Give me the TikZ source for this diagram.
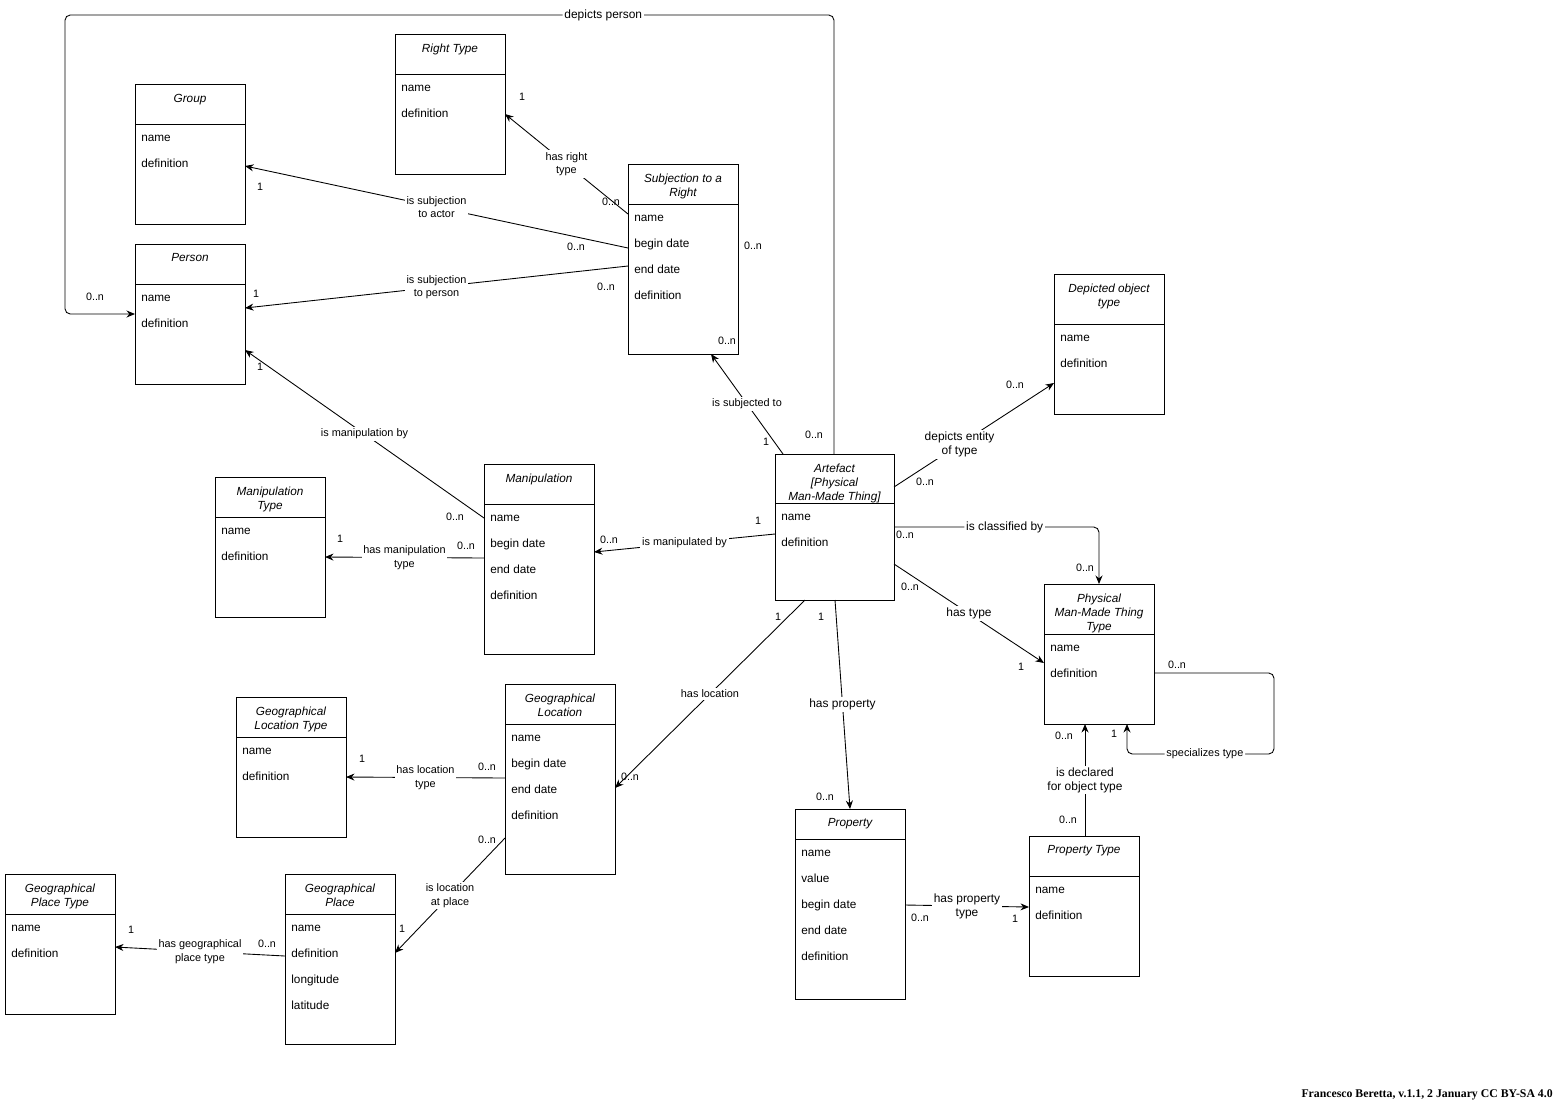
\documentclass[tikz,border=0pt]{standalone}
\usepackage{fontspec}
\setmainfont{Liberation Sans}
\newfontfamily\footerfont{Liberation Serif}
\usetikzlibrary{positioning,calc,arrows.meta}

\begin{document}
\begin{tikzpicture}[
x=0.02cm, y=-0.02cm,
classbox/.style={rectangle, draw=black, line width=0.5pt, anchor=north west, inner sep=0pt, outer sep=0pt, minimum width=2.2cm, minimum height=2.8cm},
classline/.style={line width=0.5pt},
classtitle/.style={inner sep=0pt, align=center, font=\fontsize{6.7}{8}\selectfont\itshape},
classattr/.style={inner sep=0pt, align=left, font=\fontsize{6.7}{14.8}\selectfont},
linklabel/.style={fill=white, inner sep=1pt, align=center, font=\fontsize{6.2}{7.6}\selectfont},
biglinklabel/.style={linklabel, font=\fontsize{6.8}{8}\selectfont},
mult/.style={inner sep=0pt, font=\fontsize{6.1}{7.4}\selectfont},
arrow/.style={->, line width=0.5pt, >={Stealth[length=1.7mm, width=1.4mm]}}
]
\useasboundingbox (0,0) rectangle (1565,1110);

%Classes
%Classes actors and rights
\node[classbox] 													(righttype) at (395,34) {};
\draw[classline] ([yshift=-0.8cm]righttype.north west) -- ([yshift=-0.8cm]righttype.north east);
\node[classtitle, below=0.19cm of righttype.north] 					(righttype_title) {Right Type};
\node[classattr, below right=0.21cm and 0.12cm of righttype.north west, yshift=-0.8cm] (righttype_attr) {name\\definition};

\node[classbox] 													(group) at (135,84) {};
\draw[classline] ([yshift=-0.8cm]group.north west) -- ([yshift=-0.8cm]group.north east);
\node[classtitle, below=0.19cm of group.north] 						(group_title) {Group};
\node[classattr, below right=0.21cm and 0.12cm of group.north west, yshift=-0.8cm] (group_attr) {name\\definition};

\node[classbox] 													(person) at (135,244) {};
\draw[classline] ([yshift=-0.8cm]person.north west) -- ([yshift=-0.8cm]person.north east);
\node[classtitle, below=0.19cm of person.north] 					(person_title) {Person};
\node[classattr, below right=0.21cm and 0.12cm of person.north west, yshift=-0.8cm] (person_attr) {name\\definition};

\node[classbox, minimum height=3.8cm] 								(subj) at (628,164) {};
\draw[classline] ([yshift=-0.8cm]subj.north west) -- ([yshift=-0.8cm]subj.north east);
\node[classtitle, below=0.19cm of subj.north] 						(subj_title) {Subjection to a\\Right};
\node[classattr, below right=0.21cm and 0.12cm of subj.north west, yshift=-0.8cm] (subj_attr) {name\\begin date\\end date\\definition};

\node[classbox] 													(depicted) at (1054,274) {};
\draw[classline] ([yshift=-1cm]depicted.north west) -- ([yshift=-1cm]depicted.north east);
\node[classtitle, below=0.19cm of depicted.north] 					(depicted_title) {Depicted object\\type};
\node[classattr, below right=0.21cm and 0.12cm of depicted.north west, yshift=-1cm] (depicted_attr) {name\\definition};

%Classes artefact and manipulation
\node[classbox, minimum width=2.38cm, minimum height=2.92cm] 		(artefact) at (775,454) {};
\draw[classline] ([yshift=-0.98cm]artefact.north west) -- ([yshift=-0.98cm]artefact.north east);
\node[classtitle, below=0.19cm of artefact.north] 					(artefact_title) {Artefact\\{[Physical}\\Man-Made Thing]};
\node[classattr, below right=0.21cm and 0.12cm of artefact.north west, yshift=-0.98cm] (artefact_attr) {name\\definition};

\node[classbox] 													(maniptype) at (215,477) {};
\draw[classline] ([yshift=-0.8cm]maniptype.north west) -- ([yshift=-0.8cm]maniptype.north east);
\node[classtitle, below=0.19cm of maniptype.north] 					(maniptype_title) {Manipulation\\Type};
\node[classattr, below right=0.21cm and 0.12cm of maniptype.north west, yshift=-0.8cm] (maniptype_attr) {name\\definition};

\node[classbox, minimum height=3.8cm] 								(manip) at (484,464) {};
\draw[classline] ([yshift=-0.8cm]manip.north west) -- ([yshift=-0.8cm]manip.north east);
\node[classtitle, below=0.19cm of manip.north] 						(manip_title) {Manipulation};
\node[classattr, below right=0.21cm and 0.12cm of manip.north west, yshift=-0.8cm] (manip_attr) {name\\begin date\\end date\\definition};

\node[classbox] 													(pmmt) at (1044,584) {};
\draw[classline] ([yshift=-1cm]pmmt.north west) -- ([yshift=-1cm]pmmt.north east);
\node[classtitle, below=0.19cm of pmmt.north] 						(pmmt_title) {Physical\\Man-Made Thing\\Type};
\node[classattr, below right=0.21cm and 0.12cm of pmmt.north west, yshift=-1cm] (pmmt_attr) {name\\definition};

%Classes places and properties
\node[classbox] 													(geoloctype) at (236,697) {};
\draw[classline] ([yshift=-0.8cm]geoloctype.north west) -- ([yshift=-0.8cm]geoloctype.north east);
\node[classtitle, below=0.19cm of geoloctype.north] 				(geoloctype_title) {Geographical\\Location Type};
\node[classattr, below right=0.21cm and 0.12cm of geoloctype.north west, yshift=-0.8cm] (geoloctype_attr) {name\\definition};

\node[classbox, minimum height=3.8cm] 								(geoloc) at (505,684) {};
\draw[classline] ([yshift=-0.8cm]geoloc.north west) -- ([yshift=-0.8cm]geoloc.north east);
\node[classtitle, below=0.19cm of geoloc.north] 					(geoloc_title) {Geographical\\Location};
\node[classattr, below right=0.21cm and 0.12cm of geoloc.north west, yshift=-0.8cm] (geoloc_attr) {name\\begin date\\end date\\definition};

\node[classbox, minimum height=3.8cm] 								(property) at (795,809) {};
\draw[classline] ([yshift=-0.6cm]property.north west) -- ([yshift=-0.6cm]property.north east);
\node[classtitle, below=0.19cm of property.north] 					(property_title) {Property};
\node[classattr, below right=0.21cm and 0.12cm of property.north west, yshift=-0.6cm] (property_attr) {name\\value\\begin date\\end date\\definition};

\node[classbox] 													(proptype) at (1029,836) {};
\draw[classline] ([yshift=-0.8cm]proptype.north west) -- ([yshift=-0.8cm]proptype.north east);
\node[classtitle, below=0.19cm of proptype.north] 					(proptype_title) {Property Type};
\node[classattr, below right=0.21cm and 0.12cm of proptype.north west, yshift=-0.8cm] (proptype_attr) {name\\definition};

\node[classbox] 													(geoplacetype) at (5,874) {};
\draw[classline] ([yshift=-0.8cm]geoplacetype.north west) -- ([yshift=-0.8cm]geoplacetype.north east);
\node[classtitle, below=0.19cm of geoplacetype.north] 				(geoplacetype_title) {Geographical\\Place Type};
\node[classattr, below right=0.21cm and 0.12cm of geoplacetype.north west, yshift=-0.8cm] (geoplacetype_attr) {name\\definition};

\node[classbox, minimum height=3.4cm] 								(geoplace) at (285,874) {};
\draw[classline] ([yshift=-0.8cm]geoplace.north west) -- ([yshift=-0.8cm]geoplace.north east);
\node[classtitle, below=0.19cm of geoplace.north] 					(geoplace_title) {Geographical\\Place};
\node[classattr, below right=0.21cm and 0.12cm of geoplace.north west, yshift=-0.8cm] (geoplace_attr) {name\\definition\\longitude\\latitude};

%Arrow
%Arrow from artefact and subjection
\draw [arrow, rounded corners=3pt] ($(artefact.north west)+(59,0)$) -- ++(0,-439) -- node[biglinklabel, pos=0.3]{depicts person} ++(-769,0) -- ++(0,299) -- ($(person.north west)+(0,70)$);
\draw [arrow] ($(subj.north west)+(0,50)$) -- node[linklabel]{has right\\type} ($(righttype.north west)+(110,80)$);
\draw [arrow] ($(subj.north west)+(0,84)$) -- node[linklabel]{is subjection\\to actor} ($(group.north west)+(110,82)$);
\draw [arrow] ($(subj.north west)+(0,102)$) -- node[linklabel]{is subjection\\to person} ($(person.north west)+(110,64)$);
\draw [arrow] ($(artefact.north west)+(8,0)$) -- node[linklabel]{is subjected to} ($(subj.north west)+(83,190)$);
\draw [arrow] ($(manip.north west)+(0,54)$) -- node[linklabel]{is manipulation by} ($(person.north west)+(110,106)$);
\draw [arrow] ($(artefact.north west)+(0,80)$) -- node[linklabel]{is manipulated by} ($(manip.north west)+(110,88)$);
\draw [arrow] ($(manip.north west)+(0,94)$) -- node[linklabel]{has manipulation\\type} ($(maniptype.north west)+(110,80)$);

%Arrow to types
\draw [arrow] ($(artefact.north west)+(119,33)$) -- node[biglinklabel, pos=0.41]{depicts entity\\of type} ($(depicted.north west)+(0,109)$);
\draw [arrow, rounded corners=3pt] ($(artefact.north west)+(119,73)$) -| node[biglinklabel, pos=0.27]{is classified by} ($(pmmt.north west)+(55,0)$);
\draw [arrow] ($(artefact.north west)+(119,110)$) -- node[biglinklabel]{has type} ($(pmmt.north west)+(0,79)$);
\draw [arrow, rounded corners=3pt] ($(pmmt.north west)+(110,89)$) -- ++(120,0) |- node[linklabel, pos=0.735]{specializes type} ($(pmmt.north west)+(83,170)$) -- ($(pmmt.north west)+(83,140)$);
\draw [arrow] ($(proptype.north west)+(56,0)$) -- node[biglinklabel]{is declared\\for object type} ($(pmmt.north west)+(41,140)$);

%Arrow to places and properties
\draw [arrow] ($(artefact.north west)+(30,146)$) -- node[linklabel]{has location} ($(geoloc.north west)+(110,104)$);
\draw [arrow] ($(artefact.north west)+(60,146)$) -- node[biglinklabel]{has property} ($(property.north west)+(55,0)$);
\draw [arrow] ($(property.north west)+(110,96)$) -- node[biglinklabel]{has property\\type} ($(proptype.north west)+(0,71)$);
\draw [arrow] ($(geoloc.north west)+(0,94)$) -- node[linklabel]{has location\\type} ($(geoloctype.north west)+(110,80)$);
\draw [arrow] ($(geoloc.north west)+(0,154)$) -- node[linklabel]{is location\\at place} ($(geoplace.north west)+(110,79)$);
\draw [arrow] ($(geoplace.north west)+(0,82)$) -- node[linklabel]{has geographical\\place type} ($(geoplacetype.north west)+(110,73)$);

%Multiplicities
\node[mult] (m_dp_1) at (814,435) {0..n};
\node[mult] (m_dp_2) at (95,297) {0..n};
\node[mult] (m_rt_1) at (522,97) {1};
\node[mult] (m_rt_2) at (611,202) {0..n};
\node[mult] (m_sa_1) at (260,187) {1};
\node[mult] (m_sa_2) at (576,247) {0..n};
\node[mult] (m_sp_1) at (256,294) {1};
\node[mult] (m_sp_2) at (606,287) {0..n};
\node[mult] (m_sr_1) at (753,246) {0..n};
\node[mult] (m_st_1) at (727,341) {0..n};
\node[mult] (m_st_2) at (766,442) {1};
\node[mult] (m_mb_1) at (455,517) {0..n};
\node[mult] (m_mb_2) at (260,367) {1};
\node[mult] (m_md_1) at (758,521) {1};
\node[mult] (m_md_2) at (609,540) {0..n};
\node[mult] (m_mt_1) at (340,539) {1};
\node[mult] (m_mt_2) at (466,546) {0..n};
\node[mult] (m_de_1) at (925,482) {0..n};
\node[mult] (m_de_2) at (1015,385) {0..n};
\node[mult] (m_cb_1) at (905,535) {0..n};
\node[mult] (m_cb_2) at (1085,568) {0..n};
\node[mult] (m_ht_1) at (910,587) {0..n};
\node[mult] (m_ht_2) at (1021,667) {1};
\node[mult] (m_sz_1) at (1177,665) {0..n};
\node[mult] (m_sz_2) at (1114,734) {1};
\node[mult] (m_dc_1) at (1064,736) {0..n};
\node[mult] (m_dc_2) at (1068,820) {0..n};
\node[mult] (m_hl_1) at (778,617) {1};
\node[mult] (m_hl_2) at (630,777) {0..n};
\node[mult] (m_hp_1) at (821,617) {1};
\node[mult] (m_hp_2) at (825,797) {0..n};
\node[mult] (m_pt_1) at (920,918) {0..n};
\node[mult] (m_pt_2) at (1015,919) {1};
\node[mult] (m_lt_1) at (362,759) {1};
\node[mult] (m_lt_2) at (487,767) {0..n};
\node[mult] (m_lp_1) at (487,840) {0..n};
\node[mult] (m_lp_2) at (402,929) {1};
\node[mult] (m_gp_1) at (131,930) {1};
\node[mult] (m_gp_2) at (267,944) {0..n};

%Credits
\node[anchor=east, inner sep=0pt, font=\footerfont\bfseries\fontsize{6.7}{8}\selectfont] (credits) at (1553,1095) {Francesco Beretta, v.1.1, 2 January CC BY-SA 4.0};

\end{tikzpicture}
\end{document}
